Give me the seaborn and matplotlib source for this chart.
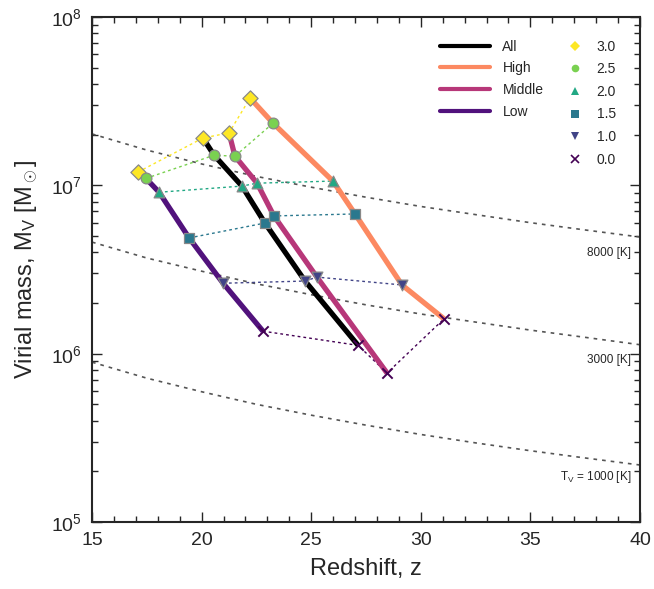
import matplotlib
matplotlib.use("Agg")
import matplotlib.pyplot as plt
import numpy as np
import pandas as pd
import seaborn as sns
from matplotlib.lines import Line2D
from matplotlib.ticker import LogLocator, MultipleLocator, NullFormatter

# halo groups and epochs
groups = ["Low", "All", "Middle", "High"]
epochs = ["3.0", "2.5", "2.0", "1.5", "1.0", "0.0"]

# redshift of each epoch, per group (same order as epochs)
z_low = [17.1, 17.46, 18.06, 19.43, 20.98, 22.80]
z_all = [20.06, 20.57, 21.84, 22.89, 24.72, 27.14]
z_middle = [21.25, 21.52, 22.53, 23.30, 25.26, 28.46]
z_high = [22.21, 23.26, 25.99, 27.0, 29.14, 31.06]

# virial mass, per group
m_low = [1.20e7, 1.10e7, 9.1e6, 4.87e6, 2.62e6, 1.36e6]
m_all = [1.91e7, 1.51e7, 9.9e6, 5.97e6, 2.70e6, 1.12e6]
m_middle = [2.05e7, 1.49e7, 1.03e7, 6.58e6, 2.85e6, 7.67e5]
m_high = [3.30e7, 2.34e7, 1.06e7, 6.76e6, 2.56e6, 1.61e6]

# virial temperature reference curves
tv_labels = ["8000 [K]", "3000 [K]", "T$_\\mathrm{V}$ = 1000 [K]"]
tv_z = [15, 17.5, 20, 22.5, 25, 27.5, 30, 32.5, 35, 37.5, 40]
tv_8000 = [2.02e7, 1.62e7, 1.34e7, 1.13e7, 9.75e6, 8.5e6, 7.49e6, 6.7e6, 6.0e6, 5.43e6, 4.93e6]
tv_3000 = [4.6e6, 3.7e6, 3.09e6, 2.6e6, 2.24e6, 1.95e6, 1.72e6, 1.54e6, 1.38e6, 1.25e6, 1.13e6]
tv_1000 = [8.9e5, 7.15e5, 5.94e5, 5.0e5, 4.31e5, 3.76e5, 3.31e5, 2.95e5, 2.65e5, 2.4e5, 2.18e5]

group_colors = {"All": "black", "High": "#fc8961", "Middle": "#b73779", "Low": "#51127c"}
epoch_colors = dict(zip(epochs, ["#fde725", "#7ad151", "#22a884", "#2a788e", "#414487", "#440154"]))
epoch_markers = dict(zip(epochs, ["D", "o", "^", "s", "v", "x"]))

rows = []
for name, zs, ms in [("Low", z_low, m_low), ("All", z_all, m_all),
                     ("Middle", z_middle, m_middle), ("High", z_high, m_high)]:
    for ep, z, m in zip(epochs, zs, ms):
        rows.append({"group": name, "epoch": ep, "z": z, "mass": m})
df = pd.DataFrame(rows)

sns.set_style("ticks")
plt.rcParams["font.family"] = ["Liberation Sans", "DejaVu Sans"]
plt.rcParams["mathtext.fontset"] = "custom"
plt.rcParams["mathtext.rm"] = "Liberation Sans"
plt.rcParams["mathtext.it"] = "Liberation Sans:italic"

fig = plt.figure(figsize=(6.54, 5.89), dpi=100)
ax = fig.add_axes([0.1407, 0.1138, 0.8379, 0.8573])

# virial temperature curves
for vals in [tv_8000, tv_3000, tv_1000]:
    ax.plot(tv_z, vals, color="#555555", lw=1.2, ls=(0, (2.2, 3)), zorder=1)
ax.text(39.6, 4.3e6, tv_labels[0], ha="right", va="top", fontsize=8.5)
ax.text(39.6, 0.99e6, tv_labels[1], ha="right", va="top", fontsize=8.5)
ax.text(39.6, 2.05e5, tv_labels[2], ha="right", va="top", fontsize=8.5)

# same-epoch connectors
sns.lineplot(data=df, x="z", y="mass", hue="epoch", palette=epoch_colors,
             estimator=None, sort=True, lw=1.0, ls=(0, (2, 2.2)), legend=False,
             ax=ax, zorder=2)

# group tracks
sns.lineplot(data=df, x="z", y="mass", hue="group", palette=group_colors,
             estimator=None, sort=True, lw=3.8, legend=False, ax=ax, zorder=3)
for line in ax.lines[-4:]:
    line.set_solid_capstyle("butt")

# markers
for ep in epochs:
    sub = df[df["epoch"] == ep]
    if epoch_markers[ep] == "x":
        sns.scatterplot(data=sub, x="z", y="mass", marker="x", color=epoch_colors[ep],
                        s=55, linewidth=1.4, ax=ax, zorder=4, legend=False)
    else:
        sns.scatterplot(data=sub, x="z", y="mass", marker=epoch_markers[ep],
                        color=epoch_colors[ep], s=60, edgecolor="#888888",
                        linewidth=0.9, ax=ax, zorder=4, legend=False)

ax.set_yscale("log")
ax.set_xlim(15, 40)
ax.set_ylim(1e5, 1e8)
ax.xaxis.set_major_locator(MultipleLocator(5))
ax.xaxis.set_minor_locator(MultipleLocator(1))
ax.yaxis.set_major_locator(LogLocator(base=10, numticks=10))
ax.yaxis.set_minor_locator(LogLocator(base=10, subs=np.arange(2, 10), numticks=10))
ax.yaxis.set_minor_formatter(NullFormatter())
ax.tick_params(which="both", direction="in", top=True, right=True, labelsize=14, width=1.0)
ax.tick_params(which="major", length=7, pad=7)
ax.tick_params(which="minor", length=4)
for sp in ax.spines.values():
    sp.set_linewidth(1.5)

ax.set_xlabel("Redshift, z", fontsize=17, labelpad=7)
ax.set_ylabel("Virial mass, M$_\\mathrm{V}$ [M$_\\odot$]", fontsize=17, labelpad=8)

# legends
group_handles = [Line2D([], [], color=group_colors[g], lw=3) for g in ["All", "High", "Middle", "Low"]]
leg1 = ax.legend(group_handles, ["All", "High", "Middle", "Low"], loc="upper left",
                 bbox_to_anchor=(0.612, 0.98), frameon=False, fontsize=10,
                 handlelength=3.6, labelspacing=0.55, handletextpad=0.9)
ax.add_artist(leg1)
epoch_handles = [Line2D([], [], ls="none", marker=epoch_markers[e], color=epoch_colors[e],
                        markersize=5.5, markeredgewidth=1.2 if e == "0.0" else 0)
                 for e in epochs]
ax.legend(epoch_handles, epochs, loc="upper left", bbox_to_anchor=(0.845, 0.98),
          frameon=False, fontsize=10, handlelength=1.0, labelspacing=0.62, handletextpad=1.1)

fig.savefig("out.png", dpi=100)
